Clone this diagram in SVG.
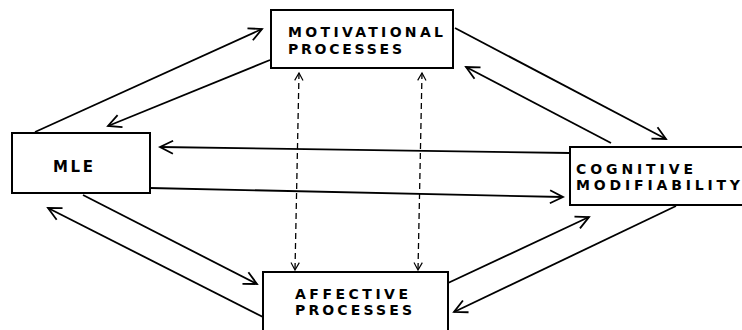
<svg xmlns="http://www.w3.org/2000/svg" width="742" height="330" viewBox="0 0 742 330">
<defs>
<style>
.box{fill:#fff;stroke:#000;stroke-width:2}
.lbl{font-family:"DejaVu Sans","Liberation Sans",sans-serif;font-weight:bold;font-size:14px;fill:#000}
.c{fill:none;stroke:#000;stroke-width:1.8;marker-end:url(#ah)}
.d{fill:none;stroke:#000;stroke-width:1.3;stroke-dasharray:6,4;marker-start:url(#ahs);marker-end:url(#ahs)}
</style>
<marker id="ah" viewBox="0 0 16 16" refX="14" refY="8" markerWidth="16" markerHeight="16" markerUnits="userSpaceOnUse" orient="auto">
<path d="M1,1.5 L14,8 L1,14.5" fill="none" stroke="#000" stroke-width="1.8"/>
</marker>
<marker id="ahs" viewBox="0 0 12 12" refX="10" refY="6" markerWidth="10" markerHeight="10" markerUnits="userSpaceOnUse" orient="auto-start-reverse">
<path d="M1,1 L10,6 L1,11" fill="none" stroke="#000" stroke-width="1.4"/>
</marker>
</defs>
<rect width="742" height="330" fill="#fff"/>
<g id="connectors">
<line class="c" x1="35" y1="132" x2="262" y2="29"/>
<line class="c" x1="270" y1="60" x2="108" y2="126"/>
<line class="c" x1="455" y1="28" x2="666" y2="139"/>
<line class="c" x1="611" y1="143" x2="466" y2="67"/>
<line class="c" x1="570" y1="153" x2="160" y2="147"/>
<line class="c" x1="150" y1="188" x2="563" y2="197"/>
<line class="c" x1="83" y1="195" x2="257" y2="284"/>
<line class="c" x1="263" y1="317" x2="48" y2="208"/>
<line class="c" x1="448" y1="283" x2="589" y2="217"/>
<line class="c" x1="676" y1="206" x2="454" y2="312"/>
<line class="d" x1="299" y1="73" x2="295" y2="270"/>
<line class="d" x1="422" y1="73" x2="418" y2="270"/>
</g>
<g id="motivational">
<rect class="box" x="271" y="10" width="182" height="58"/>
<text class="lbl" x="288" y="37" textLength="155" lengthAdjust="spacing">MOTIVATIONAL</text>
<text class="lbl" x="288" y="54" textLength="114" lengthAdjust="spacing">PROCESSES</text>
</g>
<g id="mle">
<rect class="box" x="12" y="133" width="138" height="60"/>
<text class="lbl" x="53" y="172" textLength="40" lengthAdjust="spacing" style="font-size:15px">MLE</text>
</g>
<g id="cognitive">
<rect class="box" x="570" y="147" width="180" height="58"/>
<text class="lbl" x="576" y="174" textLength="117" lengthAdjust="spacing">COGNITIVE</text>
<text class="lbl" x="576" y="190" textLength="164" lengthAdjust="spacing">MODIFIABILITY</text>
</g>
<g id="affective">
<rect class="box" x="263" y="272" width="185" height="70"/>
<text class="lbl" x="295" y="299" textLength="113" lengthAdjust="spacing">AFFECTIVE</text>
<text class="lbl" x="295" y="315" textLength="117" lengthAdjust="spacing">PROCESSES</text>
</g>
</svg>
